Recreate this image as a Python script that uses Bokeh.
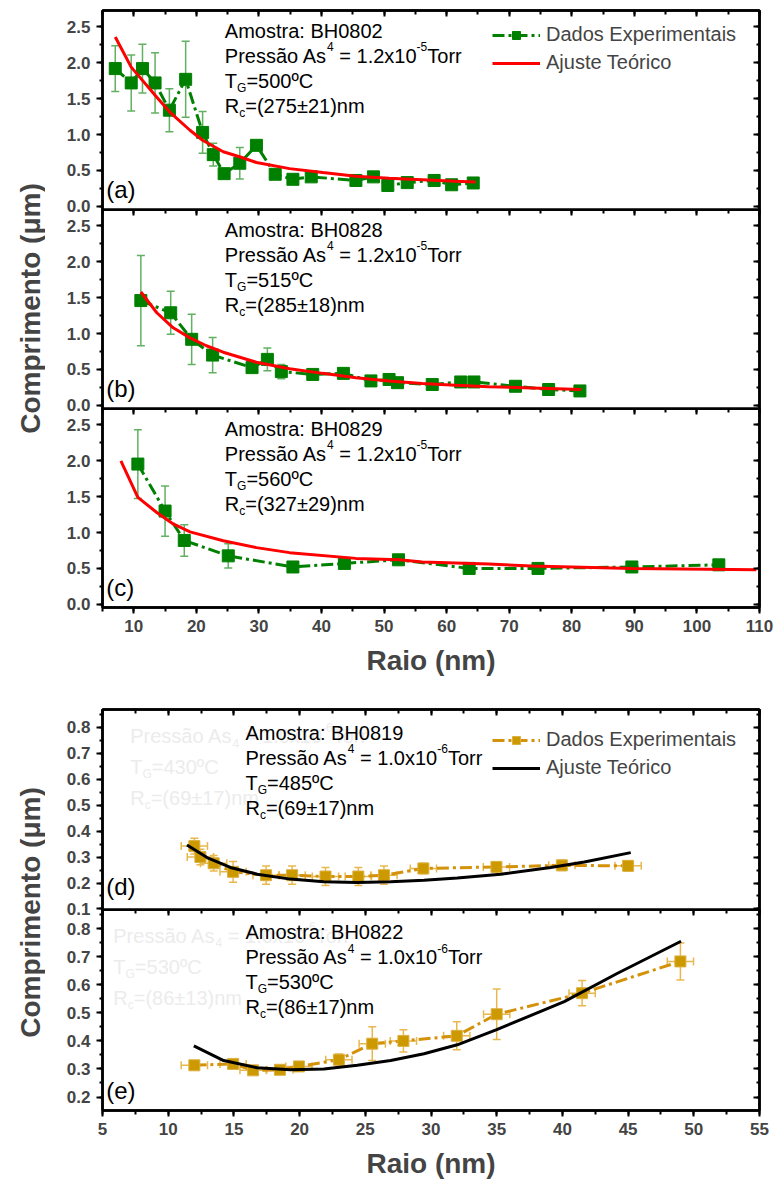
import math
from bokeh.plotting import figure
from bokeh.models import (Range1d, LinearAxis, SingleIntervalTicker, Label, Legend, LegendItem,
                          ColumnDataSource, Whisker, TeeHead, NumeralTickFormatter)
from bokeh.layouts import column, row
from bokeh.embed import file_html
from bokeh.resources import INLINE

# ---------------- data ----------------
# panel (a) BH0802
a_x = [7.04, 9.59, 11.39, 13.4, 15.69, 18.29, 21.0, 22.7, 24.44, 26.94, 29.6, 32.6, 35.43, 38.36,
       45.5, 48.3, 50.6, 53.7, 58.0, 60.8, 64.25]
a_y = [1.92, 1.72, 1.92, 1.72, 1.34, 1.77, 1.03, 0.72, 0.455, 0.60, 0.85, 0.446, 0.376, 0.41,
       0.36, 0.41, 0.29, 0.33, 0.36, 0.30, 0.325]
a_err = [0.32, 0.39, 0.34, 0.42, 0.30, 0.53, 0.29, 0.16, 0.0, 0.22, 0.0, 0.0, 0.0, 0.0,
         0.0, 0.0, 0.0, 0.0, 0.0, 0.0, 0.0]
a_fit_x = [7.04, 9.59, 13.68, 15.8, 18.98, 21.0, 24.3, 26.9, 29.6, 34.9, 40.2, 45.5, 50.8, 56.1, 61.4, 64.6]
a_fit_y = [2.36, 1.94, 1.52, 1.31, 1.06, 0.92, 0.76, 0.69, 0.61, 0.525, 0.47, 0.42, 0.39, 0.37, 0.35, 0.34]

# panel (b) BH0828
b_x = [11.13, 15.9, 19.25, 22.6, 28.9, 31.35, 33.58, 38.6, 43.5, 47.9, 50.8, 52.15, 57.7, 62.25,
       64.36, 71.0, 76.3, 81.3]
b_y = [1.46, 1.29, 0.92, 0.70, 0.525, 0.64, 0.47, 0.43, 0.445, 0.34, 0.36, 0.315, 0.29, 0.325,
       0.325, 0.265, 0.22, 0.20]
b_err = [0.63, 0.30, 0.35, 0.245, 0.06, 0.16, 0.10, 0.0, 0.05, 0.0, 0.0, 0.0, 0.0, 0.0,
         0.0, 0.0, 0.0, 0.0]
b_fit_x = [11.13, 13.68, 16.3, 18.98, 21.6, 24.3, 29.6, 34.9, 40.2, 45.5, 50.8, 56.1, 61.4, 66.75, 81.5]
b_fit_y = [1.58, 1.29, 1.08, 0.94, 0.83, 0.74, 0.60, 0.51, 0.445, 0.385, 0.34, 0.305, 0.28, 0.26, 0.22]

# panel (c) BH0829
c_x = [10.65, 15.0, 18.07, 25.1, 35.43, 43.66, 52.3, 63.6, 74.6, 89.6, 103.5]
c_y = [1.955, 1.30, 0.89, 0.675, 0.52, 0.57, 0.62, 0.50, 0.50, 0.52, 0.55]
c_err = [0.48, 0.35, 0.22, 0.17, 0.0, 0.0, 0.0, 0.0, 0.0, 0.0, 0.0]
c_fit_x = [7.94, 10.65, 13.68, 16.3, 18.98, 24.3, 29.6, 34.9, 45.5, 52.4, 56.1, 66.75, 73.6, 89.6, 109.5]
c_fit_y = [2.00, 1.49, 1.28, 1.12, 1.01, 0.885, 0.79, 0.72, 0.64, 0.62, 0.59, 0.56, 0.535, 0.50, 0.48]

# panel (d) BH0819
d_x = [11.99, 12.45, 13.46, 14.94, 17.45, 19.43, 21.97, 24.47, 26.42, 29.42, 34.98, 39.96, 45.0]
d_y = [0.342, 0.30, 0.276, 0.243, 0.23, 0.23, 0.225, 0.225, 0.23, 0.256, 0.262, 0.268, 0.266]
d_xerr = [1.0, 1.0, 1.0, 1.0, 1.0, 1.0, 1.0, 1.0, 1.0, 1.0, 1.0, 1.0, 1.0]
d_yerr = [0.03, 0.03, 0.03, 0.04, 0.035, 0.035, 0.035, 0.035, 0.035, 0.02, 0.02, 0.02, 0.02]
d_fit_x = [11.43, 12.96, 14.73, 16.77, 19.3, 21.84, 24.39, 26.93, 29.47, 32.0, 35.3, 39.1, 41.67, 45.2]
d_fit_y = [0.346, 0.298, 0.26, 0.234, 0.215, 0.205, 0.202, 0.205, 0.211, 0.219, 0.234, 0.26, 0.281, 0.317]

# panel (e) BH0822
e_x = [11.99, 14.94, 16.46, 18.5, 19.95, 22.99, 25.53, 27.9, 31.96, 35.0, 41.5, 48.98]
e_y = [0.313, 0.318, 0.295, 0.297, 0.309, 0.333, 0.39, 0.40, 0.418, 0.495, 0.570, 0.683]
e_xerr = [1.0, 1.0, 1.0, 1.0, 1.0, 1.0, 1.0, 1.0, 1.0, 1.0, 1.0, 1.0]
e_yerr = [0.01, 0.01, 0.01, 0.01, 0.01, 0.02, 0.06, 0.04, 0.05, 0.09, 0.045, 0.066]
e_fit_x = [11.95, 14.22, 16.77, 19.3, 21.85, 24.39, 26.93, 29.47, 32.0, 35.0, 40.14, 44.2, 49.03]
e_fit_y = [0.382, 0.330, 0.304, 0.297, 0.30, 0.313, 0.330, 0.354, 0.386, 0.44, 0.54, 0.641, 0.755]

samples = ["BH0802", "BH0828", "BH0829", "BH0819", "BH0822"]
pressures = [("1.2x10", "-5"), ("1.2x10", "-5"), ("1.2x10", "-5"), ("1.0x10", "-6"), ("1.0x10", "-6")]
temps = ["500ºC", "515ºC", "560ºC", "485ºC", "530ºC"]
radii = ["(275±21)nm", "(285±18)nm", "(327±29)nm", "(69±17)nm", "(86±17)nm"]
panel_tags = ["(a)", "(b)", "(c)", "(d)", "(e)"]
# faint leftover texts visible behind panels (d) and (e)
ghost_temps = ["430ºC", "530ºC"]
ghost_radii = ["(69±17)nm", "(86±13)nm"]

# ---------------- styles ----------------
FONT = "Liberation Sans"
GREEN = "#008000"
ERR_G = "#62b062"
GOLD = "#cc9900"
GOLD_LINE = "#d4920a"
ERR_O = "#e8b84e"
GHOST = "#ececec"
SHIFT = 9  # px, lift of text baselines

W = {' ': 278, '(': 333, ')': 333, '-': 333, '.': 278, ':': 278, '=': 584, '±': 584, 'º': 365,
     'A': 667, 'B': 667, 'C': 722, 'G': 778, 'H': 722, 'P': 667, 'R': 722, 'T': 611,
     'a': 556, 'c': 500, 'e': 556, 'm': 833, 'n': 556, 'o': 556, 'r': 333, 's': 500, 't': 278,
     'x': 500, 'ã': 556}


def tw(s, size):
    return sum(W.get(ch, 556) for ch in s) / 1000.0 * size


def runs(p, x, y, parts, yoff, color="black"):
    off = 0.0
    for text, size, dy in parts:
        stripped = text.lstrip(" ")
        off += tw(text[:len(text) - len(stripped)], size)
        p.add_layout(Label(x=x, y=y, x_offset=off, y_offset=yoff + dy + SHIFT, text=stripped,
                           text_font=FONT, text_font_size=f"{size}px",
                           text_baseline="alphabetic", text_color=color))
        off += tw(stripped, size)


def info_block(p, x, y, i):
    runs(p, x, y, [("Amostra: " + samples[i], 20, 0)], 0)
    pr, ex = pressures[i]
    runs(p, x, y, [("Pressão As", 20, 0), ("4", 12, 9), (" = " + pr, 20, 0), (ex, 12, 9), ("Torr", 20, 0)], -25)
    runs(p, x, y, [("T", 20, 0), ("G", 12, -7), ("=" + temps[i], 20, 0)], -50)
    runs(p, x, y, [("R", 20, 0), ("c", 12, -7), ("=" + radii[i], 20, 0)], -75)


def ghost_block(p, x, y, i):
    pr, ex = pressures[3 + i]
    runs(p, x, y, [("Pressão As", 20, 0), ("4", 12, -7), (" = " + pr, 20, 0), (ex, 12, 9), ("Torr", 20, 0)],
         0, GHOST)
    runs(p, x, y, [("T", 20, 0), ("G", 12, -7), ("=" + ghost_temps[i], 20, 0)], -31, GHOST)
    runs(p, x, y, [("R", 20, 0), ("c", 12, -7), ("=" + ghost_radii[i], 20, 0)], -62, GHOST)


def tag(p, x, y, i):
    p.add_layout(Label(x=x, y=y, y_offset=SHIFT, text=panel_tags[i], text_font=FONT, text_font_size="24px",
                       text_baseline="alphabetic", text_color="black"))


def panel(xr, yr, h, bt, bb, xint, yint, with_x, overlap):
    kw = {}
    if overlap:
        kw["margin"] = (-12, 0, 0, 0)
    p = figure(width=731, height=h, x_range=xr, y_range=yr, output_backend="svg",
               toolbar_location=None, x_axis_location=None, y_axis_location=None,
               min_border_left=57, min_border_right=17, min_border_top=bt, min_border_bottom=bb, **kw)
    p.grid.visible = False
    if overlap:
        p.background_fill_color = None
        p.border_fill_color = None
    p.outline_line_color = "black"
    p.outline_line_width = 2.5

    left = LinearAxis(ticker=SingleIntervalTicker(interval=yint, num_minor_ticks=2),
                      formatter=NumeralTickFormatter(format="0.0"))
    left.major_tick_in = 0
    left.major_tick_out = 6
    left.minor_tick_in = 0
    left.minor_tick_out = 3
    left.major_label_standoff = 6
    left.major_label_text_font = FONT
    left.major_label_text_font_style = "bold"
    left.major_label_text_font_size = "17px"
    p.add_layout(left, "left")

    right = LinearAxis(ticker=SingleIntervalTicker(interval=yint, num_minor_ticks=2))
    right.major_tick_in = 6
    right.major_tick_out = 0
    right.minor_tick_in = 3
    right.minor_tick_out = 0
    right.major_label_standoff = 0
    right.major_label_text_font_size = "0px"
    right.major_label_text_color = None
    p.add_layout(right, "right")

    top = LinearAxis(ticker=SingleIntervalTicker(interval=xint, num_minor_ticks=2))
    top.major_tick_in = 6
    top.major_tick_out = 0
    top.minor_tick_in = 4
    top.minor_tick_out = 0
    top.major_label_standoff = 0
    top.major_label_text_font_size = "0px"
    top.major_label_text_color = None
    p.add_layout(top, "above")

    if with_x:
        bot = LinearAxis(ticker=SingleIntervalTicker(interval=xint, num_minor_ticks=2))
        bot.major_tick_in = 0
        bot.major_tick_out = 6
        bot.minor_tick_in = 0
        bot.minor_tick_out = 4
        bot.major_label_standoff = 6
        bot.major_label_text_font = FONT
        bot.major_label_text_font_style = "bold"
        bot.major_label_text_font_size = "17px"
        bot.axis_label = "Raio (nm)"
        bot.axis_label_text_font = FONT
        bot.axis_label_text_font_style = "bold"
        bot.axis_label_text_font_size = "28px"
        bot.axis_label_standoff = 10
        p.add_layout(bot, "below")

    for ax in p.axis:
        ax.axis_line_width = 2.5
        ax.major_tick_line_width = 2
        ax.minor_tick_line_width = 2
    return p


def top_data(p, xs, ys, errs, fx, fy):
    src = ColumnDataSource(dict(x=xs, y=ys, lo=[v - e for v, e in zip(ys, errs)],
                                up=[v + e for v, e in zip(ys, errs)]))
    p.add_layout(Whisker(source=src, base="x", upper="up", lower="lo", line_color=ERR_G, line_width=1.5,
                         upper_head=TeeHead(size=8, line_color=ERR_G, line_width=1.5),
                         lower_head=TeeHead(size=8, line_color=ERR_G, line_width=1.5)))
    l = p.line("x", "y", source=src, line_color=GREEN, line_width=3, line_dash="12 4 3 4")
    s = p.scatter("x", "y", source=src, marker="square", size=12, fill_color=GREEN, line_color=GREEN)
    f = p.line(fx, fy, line_color="#ff0000", line_width=3)
    return l, s, f


def bot_data(p, xs, ys, xerr, yerr, fx, fy):
    src = ColumnDataSource(dict(x=xs, y=ys,
                                lo=[v - e for v, e in zip(ys, yerr)], up=[v + e for v, e in zip(ys, yerr)],
                                xl=[v - e for v, e in zip(xs, xerr)], xr=[v + e for v, e in zip(xs, xerr)]))
    p.add_layout(Whisker(source=src, base="x", upper="up", lower="lo", line_color=ERR_O, line_width=1.5,
                         upper_head=TeeHead(size=8, line_color=ERR_O, line_width=1.5),
                         lower_head=TeeHead(size=8, line_color=ERR_O, line_width=1.5)))
    p.add_layout(Whisker(source=src, base="y", upper="xr", lower="xl", dimension="width",
                         line_color=ERR_O, line_width=1.5,
                         upper_head=TeeHead(size=8, line_color=ERR_O, line_width=1.5),
                         lower_head=TeeHead(size=8, line_color=ERR_O, line_width=1.5)))
    l = p.line("x", "y", source=src, line_color=GOLD_LINE, line_width=3, line_dash="12 4 3 4")
    s = p.scatter("x", "y", source=src, marker="square", size=11, fill_color=GOLD, line_color="#ddb040")
    f = p.line(fx, fy, line_color="black", line_width=3)
    return l, s, f


def add_legend(p, l, s, f, loc):
    leg = Legend(items=[LegendItem(label="Dados Experimentais", renderers=[l, s]),
                        LegendItem(label="Ajuste Teórico", renderers=[f])],
                 location=loc, label_text_font=FONT, label_text_font_size="20px",
                 glyph_width=48, glyph_height=20, label_height=20, spacing=5, padding=0, margin=0,
                 label_standoff=6, border_line_alpha=0, background_fill_alpha=0)
    p.add_layout(leg)


# ---------------- top group ----------------
xr_top = Range1d(5, 110)
fa = panel(xr_top, Range1d(-0.045, 2.73), 221, 10, 12, 10, 0.5, False, False)
fb = panel(xr_top, Range1d(-0.045, 2.73), 211, 0, 12, 10, 0.5, False, True)
fc = panel(xr_top, Range1d(-0.045, 2.73), 279, 0, 80, 10, 0.5, True, True)

la, sa, fa_fit = top_data(fa, a_x, a_y, a_err, a_fit_x, a_fit_y)
top_data(fb, b_x, b_y, b_err, b_fit_x, b_fit_y)
top_data(fc, c_x, c_y, c_err, c_fit_x, c_fit_y)
add_legend(fa, la, sa, fa_fit, (390, 135))

for i, p in enumerate([fa, fb, fc]):
    info_block(p, 24.55, 2.32, i)
    tag(p, 5.6, 0.11, i)

# ---------------- bottom group ----------------
xr_bot = Range1d(5, 55)
fd = panel(xr_bot, Range1d(0.098, 0.868), 234, 22, 12, 5, 0.1, False, False)
fe = panel(xr_bot, Range1d(0.152, 0.868), 281, 0, 80, 5, 0.1, True, True)

ghost_block(fd, 7.11, 0.730, 0)
ghost_block(fe, 5.82, 0.743, 1)

ld, sd, fd_fit = bot_data(fd, d_x, d_y, d_xerr, d_yerr, d_fit_x, d_fit_y)
bot_data(fe, e_x, e_y, e_xerr, e_yerr, e_fit_x, e_fit_y)
add_legend(fd, ld, sd, fd_fit, (390, 130))

info_block(fd, 15.88, 0.743, 3)
info_block(fe, 15.88, 0.7545, 4)
tag(fd, 5.28, 0.15, 3)
tag(fe, 5.28, 0.19, 4)


def ylab(height, cy):
    f = figure(width=45, height=height, x_range=Range1d(0, 1), y_range=Range1d(0, 1),
               output_backend="svg", toolbar_location=None, min_border=0,
               x_axis_location=None, y_axis_location=None)
    f.grid.visible = False
    f.outline_line_color = None
    f.add_layout(Label(x=30, y=cy, x_units="screen", y_units="screen", text="Comprimento (μm)",
                       angle=math.pi / 2, text_align="center", text_baseline="middle",
                       text_font=FONT, text_font_style="bold", text_font_size="28px"))
    return f


top_row = row(ylab(687, 687 - 308), column(fa, fb, fc))
bot_row = row(ylab(503, 503 - 225), column(fd, fe))
layout = column(top_row, bot_row)

open("out.html", "w").write(file_html(layout, INLINE))
